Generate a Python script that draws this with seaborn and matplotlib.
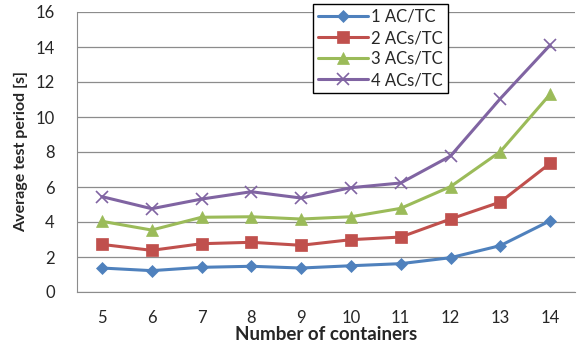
import pandas as pd
import seaborn as sns
import matplotlib.pyplot as plt

containers = [5, 6, 7, 8, 9, 10, 11, 12, 13, 14]
ac1 = [1.37, 1.22, 1.41, 1.47, 1.37, 1.50, 1.62, 1.96, 2.65, 4.07]
ac2 = [2.72, 2.38, 2.76, 2.84, 2.67, 2.99, 3.14, 4.17, 5.14, 7.35]
ac3 = [4.04, 3.54, 4.27, 4.30, 4.17, 4.30, 4.78, 6.02, 8.02, 11.30]
ac4 = [5.45, 4.76, 5.31, 5.73, 5.37, 5.96, 6.23, 7.77, 11.05, 14.11]
series = ['1 AC/TC', '2 ACs/TC', '3 ACs/TC', '4 ACs/TC']

sns.set_style('white')
plt.rcParams['font.family'] = ['Lato', 'DejaVu Sans']

df = pd.DataFrame({'containers': containers * 4,
                   'period': ac1 + ac2 + ac3 + ac4,
                   'series': [s for s in series for _ in containers]})

palette = ['#4F81BD', '#C0504D', '#9BBB59', '#8064A2']
markers = {'1 AC/TC': 'D', '2 ACs/TC': 's', '3 ACs/TC': '^', '4 ACs/TC': 'x'}
sizes = {'1 AC/TC': 6, '2 ACs/TC': 8, '3 ACs/TC': 8, '4 ACs/TC': 8}

fig = plt.figure(figsize=(5.82, 3.43), dpi=100)
ax = fig.add_axes([77 / 582, 1 - 292 / 343, 498 / 582, 280 / 343])

for s, c in zip(series, palette):
    sub = df[df.series == s]
    sns.lineplot(x='containers', y='period', data=sub, ax=ax, color=c,
                 marker=markers[s], markersize=sizes[s], linewidth=2.2,
                 markeredgecolor=c, markeredgewidth=1.2 if s == '4 ACs/TC' else 0.5,
                 label=s)

ax.set_xlim(4.5, 14.5)
ax.set_ylim(0, 16)
ax.set_xticks(containers)
ax.set_yticks(range(0, 17, 2))
ax.yaxis.grid(True, color='#8c8c8c', linewidth=0.9)
ax.set_axisbelow(True)
for side in ['top', 'right']:
    ax.spines[side].set_visible(False)
for side in ['left', 'bottom']:
    ax.spines[side].set_color('#8c8c8c')
ax.tick_params(axis='y', labelsize=12, length=0, pad=16)
ax.tick_params(axis='x', labelsize=12, length=0, pad=13)
ax.set_xlabel('Number of containers', fontsize=13.5, fontweight='bold', labelpad=0)
ax.set_ylabel('Average test period [s]', fontsize=11.5, fontweight='bold', labelpad=5)

leg = ax.legend(loc='upper left', bbox_to_anchor=(313 / 582, 1 - 4 / 343),
                bbox_transform=fig.transFigure, fontsize=12, frameon=True,
                fancybox=False, edgecolor='black', handlelength=3.0,
                handletextpad=0.2, borderpad=0.3, labelspacing=0.3,
                borderaxespad=0)
leg.get_frame().set_linewidth(1.0)
leg.get_frame().set_alpha(1)

fig.savefig('out.png', dpi=100)
